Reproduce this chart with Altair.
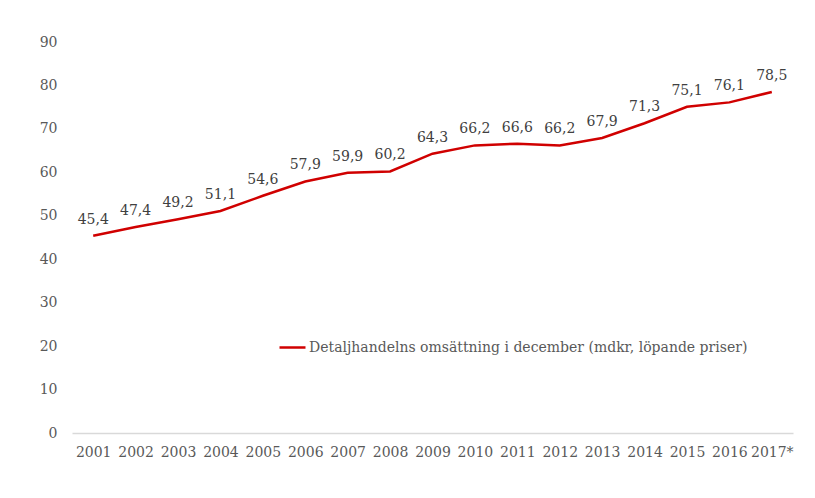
import altair as alt
import pandas as pd

years = ["2001", "2002", "2003", "2004", "2005", "2006", "2007", "2008", "2009",
         "2010", "2011", "2012", "2013", "2014", "2015", "2016", "2017*"]
values = [45.4, 47.4, 49.2, 51.1, 54.6, 57.9, 59.9, 60.2, 64.3,
          66.2, 66.6, 66.2, 67.9, 71.3, 75.1, 76.1, 78.5]
series_name = "Detaljhandelns omsättning i december (mdkr, löpande priser)"

df = pd.DataFrame({
    "year": years,
    "value": values,
    "label": [f"{v:.1f}".replace(".", ",") for v in values],
    "series": series_name,
})

FONT = "DejaVu Serif"

x = alt.X("year:N", sort=years, title=None,
          scale=alt.Scale(type="point", padding=0.5),
          axis=alt.Axis(labelAngle=0, ticks=False, labelPadding=12, labelFontSize=14,
                        labelColor="#595959", labelFont=FONT, domainColor="#d9d9d9",
                        domainWidth=1.5, grid=False))
y = alt.Y("value:Q", title=None,
          scale=alt.Scale(domain=[0, 90]),
          axis=alt.Axis(values=list(range(0, 91, 10)), ticks=False, domain=False, grid=False,
                        labelPadding=15, labelFontSize=14, labelColor="#595959", labelFont=FONT))

line = alt.Chart(df).mark_line(strokeWidth=2.5).encode(
    x=x, y=y,
    color=alt.Color("series:N", scale=alt.Scale(range=["#D00000"]),
                    legend=alt.Legend(title=None, orient="none", legendX=206, legendY=291,
                                      symbolType="stroke", symbolSize=676, symbolStrokeWidth=2.5,
                                      labelFont=FONT, labelFontSize=14, labelColor="#595959",
                                      labelOffset=2, labelLimit=800)),
)

text = alt.Chart(df).mark_text(dy=-16, fontSize=14, font=FONT, color="#404040").encode(
    x=x, y=y, text="label:N")

chart = (line + text).properties(
    width=721, height=391,
    autosize=alt.AutoSizeParams(type="none"),
    padding={"left": 64, "top": 34, "right": 14, "bottom": 50},
).configure_view(stroke=None)

chart.save("out.html", embed_options={"renderer": "svg", "actions": False})
